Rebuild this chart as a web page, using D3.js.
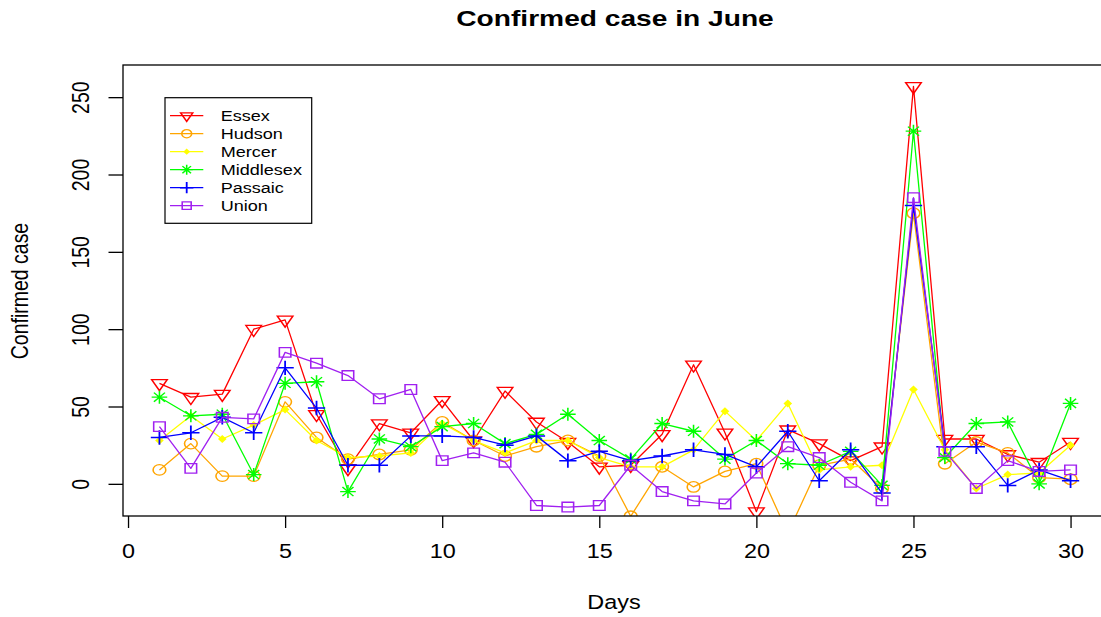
<!DOCTYPE html>
<html><head><meta charset="utf-8">
<script src="https://cdn.jsdelivr.net/npm/d3@7"></script>
<style>
body{margin:0;background:#fff}
svg{display:block}
text{font-family:"Liberation Sans",Arial,Helvetica,sans-serif;fill:#000}
</style>
</head><body>
<svg id="c" width="1101" height="617"></svg>
<script>
// ---------- data ----------
const days = [1,2,3,4,5,6,7,8,9,10,11,12,13,14,15,16,17,18,19,20,21,22,23,24,25,26,27,28,29,30];
const essex     = [65,56,58,100,106,45,10,39,33,54,28,60,40,27,11,12,32,77,33,-18,35,26,15,24,257,29,29,19,14,27];
const hudson    = [9,26,5,5,53,30,16,19,22,40,28,18,24,28,18,-21,11,-2,8,13,-32,12,16,-3,175,13,27,20,4,3];
const mercer    = [28,44,29,38,48,28,17,18,20,39,28,20,28,28,17,11,11,22,47,28,52,9,11,12,61,22,-3,6,7,25];
const middlesex = [56,44,45,6,65,66,-5,29,24,37,39,26,32,45,28,16,39,34,16,28,13,12,21,-1,228,17,39,40,0,52];
const passaic   = [30,33,43,33,75,49,12,12,31,31,30,25,31,15,21,15,18,22,19,11,34,2,22,-6,180,24,24,-1,9,2];
const union     = [37,10,43,42,85,78,70,55,61,15,20,14,-14,-15,-14,12,-5,-11,-13,7,24,17,1,-11,185,21,-3,15,8,9];
const seriesNames = ["Essex","Hudson","Mercer","Middlesex","Passaic","Union"];
const seriesValues = [essex,hudson,mercer,middlesex,passaic,union];
const xTickValues = [0,5,10,15,20,25,30];
const yTickValues = [0,50,100,150,200,250];
const titleText = "Confirmed case in June";
const xLabel = "Days";
const yLabel = "Confirmed case";

// ---------- styles ----------
const colors = ["#FF0000","#FFA500","#FFFF00","#00FF00","#0000FF","#A020F0"];
const symbolKinds = ["triDown","circle","diamond","asterisk","plus","square"];
const SX = 1.2; // horizontal stretch of the original raster

const svg = d3.select("#c");
const L = 123, T = 65, R = 1107, B = 516;
const x = d3.scaleLinear().domain([-0.16, 31.16]).range([L, R]);
const y = d3.scaleLinear().domain([-20.8, 270.8]).range([B, T]);

svg.append("defs").append("clipPath").attr("id","plotclip")
  .append("rect").attr("x",L).attr("y",T).attr("width",R-L).attr("height",B-T);

function drawSymbol(g, kind, color, k){
  const s = k || 1;
  if(kind==="triDown"){
    g.append("path").attr("d",`M${-6.5*s},${-3.7*s}L${6.5*s},${-3.7*s}L0,${7.3*s}Z`)
      .attr("fill","none").attr("stroke",color).attr("stroke-width",1.3);
  } else if(kind==="circle"){
    g.append("circle").attr("r",5.3*s).attr("fill","none").attr("stroke",color).attr("stroke-width",1.3);
  } else if(kind==="diamond"){
    g.append("path").attr("d",`M0,${-4*s}L${3.6*s},0L0,${4*s}L${-3.6*s},0Z`).attr("fill",color).attr("stroke","none");
  } else if(kind==="asterisk"){
    const a=6.5*s, b=4.6*s;
    g.append("path").attr("d",`M${-a},0L${a},0M0,${-a}L0,${a}M${-b},${-b}L${b},${b}M${-b},${b}L${b},${-b}`)
      .attr("fill","none").attr("stroke",color).attr("stroke-width",1.3);
  } else if(kind==="plus"){
    const a=7.2*s;
    g.append("path").attr("d",`M${-a},0L${a},0M0,${-a}L0,${a}`)
      .attr("fill","none").attr("stroke",color).attr("stroke-width",1.5);
  } else if(kind==="square"){
    const a=4.8*s;
    g.append("path").attr("d",`M${-a},${-a}H${a}V${a}H${-a}Z`)
      .attr("fill","none").attr("stroke",color).attr("stroke-width",1.3);
  }
}

// ---------- series ----------
const plot = svg.append("g").attr("clip-path","url(#plotclip)");
const line = d3.line().x(d=>x(d[0])).y(d=>y(d[1]));
seriesValues.forEach((vals,i)=>{
  const pts = days.map((d,j)=>[d,vals[j]]);
  plot.append("path").attr("d",line(pts)).attr("fill","none")
    .attr("stroke",colors[i]).attr("stroke-width",1.3).attr("stroke-linejoin","round");
  pts.forEach(p=>{
    const g = plot.append("g").attr("transform",`translate(${x(p[0])},${y(p[1])}) scale(${SX},1)`);
    drawSymbol(g, symbolKinds[i], colors[i]);
  });
});

// ---------- box ----------
svg.append("rect").attr("x",L).attr("y",T).attr("width",R-L).attr("height",B-T)
  .attr("fill","none").attr("stroke","#000").attr("stroke-width",1.3);

// ---------- axes ----------
const xa = svg.append("g").attr("transform",`translate(0,${B})`)
  .call(d3.axisBottom(x).tickValues(xTickValues).tickSize(12).tickSizeOuter(0).tickFormat(d3.format("d")));
xa.select(".domain").remove();
xa.selectAll(".tick line").attr("stroke","#000").attr("stroke-width",1.3);
xa.selectAll(".tick text").attr("y",null).attr("dy",null)
  .attr("transform",`translate(0,${558-B}) scale(${SX},1)`)
  .style("font-size","19.5px").attr("fill","#000");

const ya = svg.append("g").attr("transform",`translate(${L},0)`)
  .call(d3.axisLeft(y).tickValues(yTickValues).tickSize(14.5).tickSizeOuter(0).tickFormat(d3.format("d")));
ya.select(".domain").remove();
ya.selectAll(".tick line").attr("stroke","#000").attr("stroke-width",1.3);
ya.selectAll(".tick text").attr("x",null).attr("dy",null).attr("text-anchor","middle")
  .attr("transform",`translate(${89-L},0) scale(${SX},1) rotate(-90)`)
  .style("font-size","19.5px").attr("fill","#000");

// ---------- labels ----------
svg.append("text").attr("text-anchor","middle")
  .attr("transform",`translate(615,26) scale(1.28,1)`)
  .style("font-size","22px").style("font-weight","bold").text(titleText);
svg.append("text").attr("text-anchor","middle")
  .attr("transform",`translate(614,609) scale(${SX},1)`)
  .style("font-size","19.5px").text(xLabel);
svg.append("text").attr("text-anchor","middle")
  .attr("transform",`translate(28,291) scale(${SX},1) rotate(-90)`)
  .style("font-size","19.5px").text(yLabel);

// ---------- legend ----------
const lg = svg.append("g");
lg.append("rect").attr("x",165).attr("y",97.7).attr("width",146.7).attr("height",125.6)
  .attr("fill","#fff").attr("stroke","#000").attr("stroke-width",1.2);
seriesNames.forEach((name,i)=>{
  const ry = 115.7 + 18*i;
  lg.append("line").attr("x1",170).attr("x2",203.3).attr("y1",ry).attr("y2",ry)
    .attr("stroke",colors[i]).attr("stroke-width",1.3);
  const g = lg.append("g").attr("transform",`translate(186.7,${ry}) scale(${SX},1)`);
  drawSymbol(g, symbolKinds[i], colors[i], 0.78);
  lg.append("text").attr("transform",`translate(220.7,${ry+5.5}) scale(1.18,1)`)
    .style("font-size","15.3px").text(name);
});
</script>
</body></html>
